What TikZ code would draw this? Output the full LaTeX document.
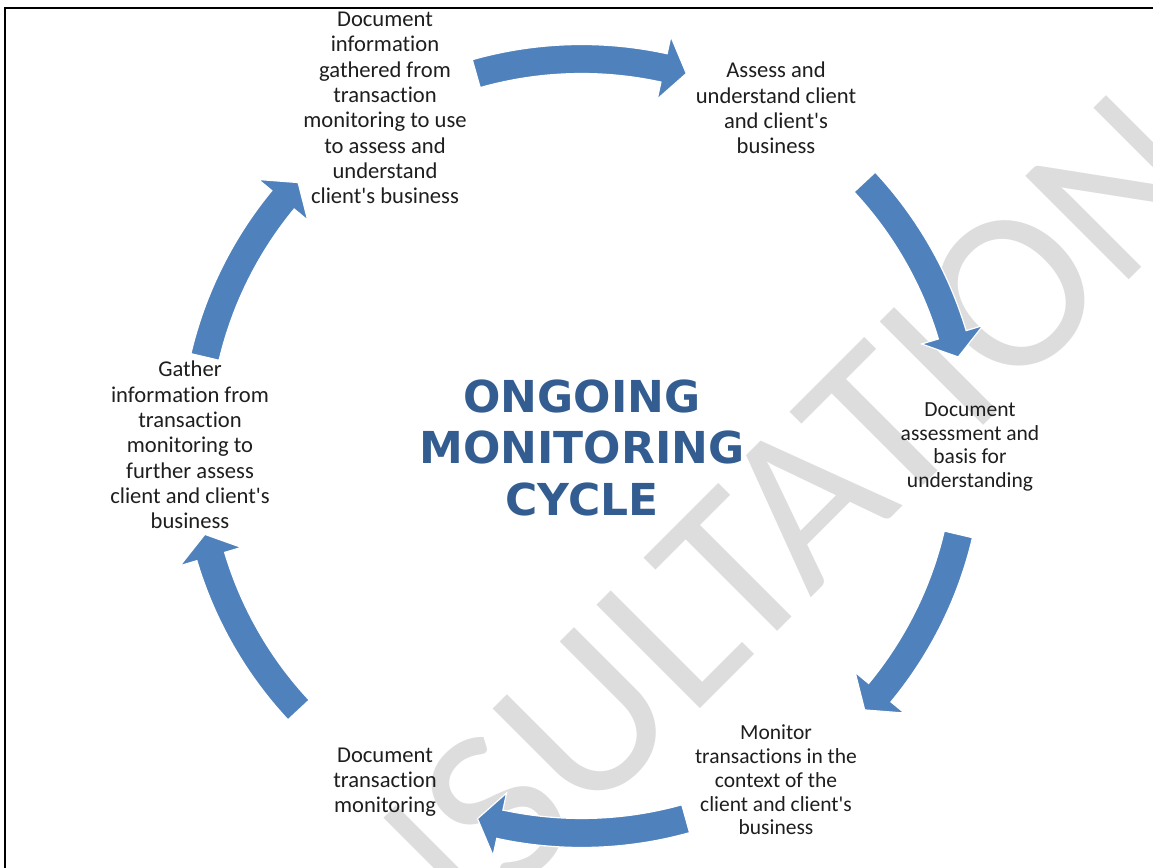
\documentclass[tikz,border=0pt]{standalone}
\usepackage{fontspec}
\setmainfont{Carlito}[Ligatures={TeXOff,NoCommon}]
\newfontfamily\titlefont{DejaVu Sans}
\usetikzlibrary{calc}

\definecolor{cycleblue}{RGB}{79,129,189}
\definecolor{titleblue}{RGB}{51,93,144}
\definecolor{markgray}{RGB}{221,221,221}
\definecolor{bodytext}{RGB}{30,30,30}

\begin{document}
\begin{tikzpicture}[x=1pt,y=1pt,
  steplabel/.style={align=center, inner sep=0pt, text=bodytext,
    font={\fontsize{22.6}{25.3}\selectfont}},
  steplabelsmall/.style={steplabel, font={\fontsize{21.5}{23.7}\selectfont}},
  titletext/.style={align=center, inner sep=0pt, text=titleblue,
    font={\titlefont\bfseries\fontsize{44}{51.5}\selectfont}},
  watermarktext/.style={inner sep=0pt, anchor=base, rotate=45, text=markgray,
    font={\fontsize{228}{228}\selectfont}},
  cyclearrow/.style={fill=cycleblue, draw=white, line width=1.2pt, line join=miter},
  framerule/.style={draw=black, line width=1.8pt}]

\useasboundingbox (0,0) rectangle (1153,867);

% diagonal watermark behind everything
\begin{scope}
  \clip (0,0) rectangle (1153,867);
  \node[watermarktext] (mark) at (719,177) {CONSULTATION};
\end{scope}

% frame (left and top edges)
\coordinate (fbl) at (5,-2);
\coordinate (ftl) at (5,859);
\coordinate (ftr) at (1155,859);
\draw[framerule] (fbl) -- (ftl) -- (ftr);

% six curved arrows around the cycle centre: tail angle / tip angle
\coordinate (C) at (581.6,421);
\begin{scope}[shift={(C)}]
  \foreach \ta/\tb in {105.8/74.3, 43/13.3, -13.2/-43, -74.4/-105.6, -137/-166.8, 166.7/137.1} {
    \pgfmathsetmacro{\hb}{\tb+3.4}
    \fill[cyclearrow] (\ta:401.5pt)
      arc[start angle=\ta, end angle=\hb, radius=401.5pt]
      -- (\hb:419pt) -- (\tb:387pt) -- (\hb:355pt)
      -- (\hb:372.5pt)
      arc[start angle=\hb, end angle=\ta, radius=372.5pt]
      -- cycle;
  }
\end{scope}

% centre title
\node[titletext] (title) at (582,419.5) {ONGOING\\MONITORING\\CYCLE};

% step labels
\node[steplabel] (s1) at (385,759) {Document\\information\\gathered from\\transaction\\monitoring to use\\to assess and\\understand\\client's business};
\node[steplabel] (s2) at (776,759) {Assess and\\understand client\\and client's\\business};
\node[steplabelsmall] (s3) at (970,420) {Document\\assessment and\\basis for\\understanding};
\node[steplabelsmall] (s4) at (776,87) {Monitor\\transactions in the\\context of the\\client and client's\\business};
\node[steplabel] (s5) at (385,85) {Document\\transaction\\monitoring};
\node[steplabel] (s6) at (190,422) {Gather\\information from\\transaction\\monitoring to\\further assess\\client and client's\\business};
\end{tikzpicture}
\end{document}
